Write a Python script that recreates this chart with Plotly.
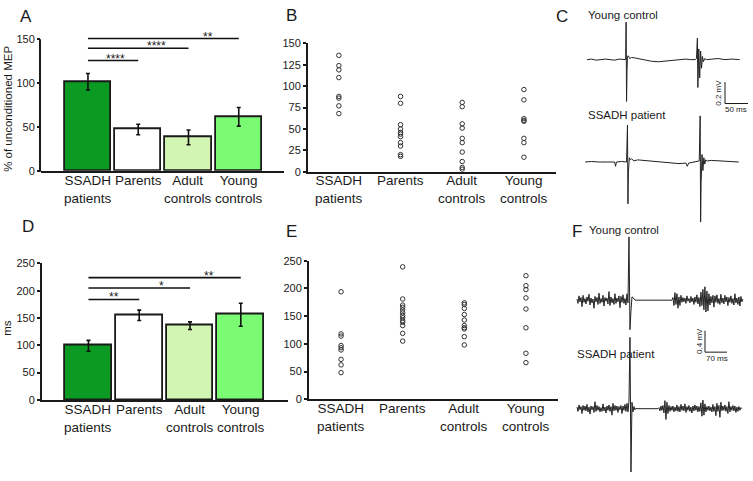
import plotly.graph_objects as go

W, H = 753, 481

# ---------------- data ----------------
category_labels = ["SSADH<br>patients", "Parents", "Adult<br>controls", "Young<br>controls"]
bar_colors = ["#0b9b22", "#ffffff", "#d3f5b3", "#7bfa74"]

# Panel A: % of unconditioned MEP (mean, SEM)
mep_mean = [101.5, 47, 38, 61.5]
mep_err = [9.3, 6, 8.4, 10.6]
sigA_to = [1, 2, 3]
sigA_height = [125.6, 139.6, 150.7]
sigA_text = ["****", "****", "**"]
sigA_text_x = [0.55, 1.37, 2.39]

# Panel B: individual values
mep_ssadh = [136, 124, 119, 110, 88, 86, 77, 68]
mep_parents = [88, 80, 55, 50, 46, 44, 41, 34, 30, 20, 18]
mep_adult = [81, 76, 56, 51, 39, 34, 23, 12, 5, 3]
mep_young = [96, 84, 62, 60, 59, 39, 34, 17]

# Panel D: silent period (ms)
sp_mean = [99, 155, 136, 156]
sp_err = [10, 9.5, 7, 21]
sigD_to = [1, 2, 3]
sigD_height = [184, 205, 224]
sigD_text = ["**", "*", "**"]
sigD_text_x = [0.51, 1.44, 2.37]

# Panel E: individual values
sp_ssadh = [194, 118, 114, 97, 93, 89, 72, 62, 48]
sp_parents = [239, 181, 170, 166, 161, 156, 151, 147, 142, 139, 133, 119, 105]
sp_adult = [174, 171, 164, 153, 143, 133, 129, 127, 113, 98]
sp_young = [223, 205, 198, 183, 163, 129, 83, 66]

# Panel C: paired-pulse MEP traces (ms, mV)
c_young_t = [0, 10, 20, 30, 40, 50, 60, 70, 80, 84, 85, 86, 87, 88, 90, 93, 97,
             105, 115, 125, 140, 155, 170, 185, 200, 215, 225, 235, 238, 240, 241,
             243, 245, 247, 249, 251, 253, 256, 260, 270, 285, 300, 315, 332]
c_young_v = [0, 0.005, -0.005, 0, 0.005, 0, -0.005, 0.005, 0, 0, 0.35, -0.39, -0.1,
             0.03, 0.035, 0.01, 0.02, 0.015, 0.005, 0, -0.015, -0.02, -0.015, -0.01,
             0, 0.005, 0, 0, 0.01, 0.2, -0.26, 0.1, -0.17, 0.08, -0.08, 0.03, -0.02,
             0.01, 0, 0.005, 0.01, 0, 0.005, 0]
c_ssadh_t = [-4, 10, 25, 40, 45, 50, 60, 62, 64, 75, 86, 88, 89, 90, 92, 94, 97,
             102, 110, 125, 140, 160, 180, 200, 215, 218, 221, 235, 244, 246, 247,
             248, 250, 252, 254, 256, 258, 262, 270, 285, 300, 315, 330]
c_ssadh_v = [0, 0.005, 0, 0.005, 0, 0, 0, -0.04, 0, 0.005, 0, 0.345, -0.39, -0.1,
             0.04, 0.02, 0.03, 0.01, 0.02, 0.015, 0.01, 0, -0.01, -0.015, -0.01,
             -0.04, -0.01, 0, 0.01, 0.43, -0.56, -0.2, 0.07, -0.08, 0.04, -0.02,
             0.02, 0.01, 0.015, 0.01, 0.005, 0, 0]

# Panel F: cortical silent period EMG traces (mV, sampled every F_DT ms)
F_DT = 3.18
f_young_v = [
    0.02, -0.06, 0.08, -0.03, 0.05, -0.12, 0.09, -0.04, 0.03, -0.07,
    0.06, -0.02, 0.11, -0.09, 0.04, -0.05, 0.02, -0.15, 0.07, -0.03,
    0.05, -0.08, 0.13, -0.06, 0.03, -0.04, 0.09, -0.11, 0.05, -0.02,
    0.04, -0.07, 0.16, -0.10, 0.06, -0.05, 0.03, -0.08, 0.12, -0.06,
    0.04, -0.03, 0.08, -0.14, 0.07, -0.04, 0.10, -0.06, 0.03, -0.09,
    0.12, -0.05, 1.18, -0.55, -0.20, 0.06, 0.05, 0.02,
    0, 0, 0, 0, 0, 0, 0, 0, 0, 0, 0, 0, 0, 0, 0, 0, 0, 0, 0,
    0, 0, 0, 0, 0, 0, 0, 0, 0, 0, 0, 0, 0, 0, 0, 0, 0, 0, 0,
    0.05, -0.10, 0.14, -0.08, 0.12, -0.15, 0.06, -0.10, 0.09, -0.04,
    0.05, -0.03, 0.04, -0.06, 0.08, -0.02, 0.03, -0.05, 0.07, -0.03,
    0.04, -0.08, 0.06, -0.04, 0.10, -0.07, 0.05, -0.12, 0.15, -0.10,
    0.20, -0.18, 0.25, -0.22, 0.17, -0.20, 0.12, -0.09, 0.07, -0.05,
    0.09, -0.13, 0.08, -0.04, 0.10, -0.06, 0.03, -0.08, 0.11, -0.05,
    0.04, -0.07, 0.09, -0.03, 0.06, -0.10, 0.05, -0.04, 0.08, -0.06,
    0.03, -0.09, 0.12, -0.05, 0.04, -0.08, 0.06, -0.11, 0.07, -0.03, 0.02]
f_ssadh_v = [
    0.03, -0.05, 0.07, -0.02, 0.04, -0.09, 0.06, -0.03, 0.05, -0.04,
    0.08, -0.06, 0.03, -0.10, 0.05, -0.02, 0.04, -0.07, 0.13, -0.05,
    0.06, -0.03, 0.04, -0.06, 0.02, -0.05, 0.09, -0.04, 0.03, -0.08,
    0.05, -0.03, 0.07, -0.05, 0.04, -0.12, 0.10, -0.04, 0.06, -0.03,
    0.05, -0.07, 0.04, -0.02, 0.06, -0.09, 0.05, -0.03, 0.08, -0.05,
    0.10, -0.06, 0.14, 1.33, -1.18, 0.12, -0.06, 0.04, -0.02, 0.01,
    0, 0, 0, 0, 0, 0, 0, 0, 0, 0, 0, 0, 0, 0, 0, 0, 0, 0, 0, 0, 0, 0,
    0.02, -0.04, 0.05, -0.03, 0.06, -0.08, 0.15, -0.20, 0.12, -0.09,
    0.06, -0.05, 0.04, -0.03, 0.05, -0.06, 0.03, -0.04, 0.07, -0.05,
    0.04, -0.06, 0.08, -0.03, 0.05, -0.04, 0.09, -0.07, 0.04, -0.03,
    0.06, -0.05, 0.03, -0.08, 0.05, -0.04, 0.07, -0.03, 0.05, -0.06,
    0.04, -0.05, 0.11, -0.14, 0.16, -0.12, 0.09, -0.06, 0.04, -0.03,
    0.05, -0.04, 0.03, -0.06, 0.08, -0.05, 0.04, -0.13, 0.10, -0.05,
    0.06, -0.16, 0.12, -0.04, 0.05, -0.03, 0.07, -0.05, 0.04, -0.09,
    0.13, -0.06, 0.04, -0.03, 0.06, -0.04, 0.05, -0.07, 0.03, -0.05,
    0.04, -0.03, 0.02, 0.0]

# ---------------- layout helpers ----------------
FONT = "Liberation Sans, Arial, sans-serif"
INK = "#1a1a1a"


def fx(px):
    return px / W


def fy(py):
    return 1 - py / H


def xdom(p0, p1):
    return [fx(p0), fx(p1)]


def ydom(top, bottom):
    return [fy(bottom), fy(top)]


fig = go.Figure()
annotations = []
shapes = []


def text(x, y, s, size, xref="paper", yref="paper", angle=0, xanchor="center",
         yanchor="middle", yshift=0):
    annotations.append(dict(x=x, y=y, xref=xref, yref=yref, text=s, showarrow=False,
                            font=dict(family=FONT, size=size, color=INK),
                            textangle=angle, xanchor=xanchor, yanchor=yanchor,
                            yshift=yshift, borderpad=0))


axis_common = dict(showgrid=False, zeroline=False, linecolor=INK, linewidth=2,
                   tickfont=dict(family=FONT, size=11, color=INK), fixedrange=True)

# ---------- Panel A ----------
A_SCALE = 0.9  # px per %
A_TOP = 169 - 158 * A_SCALE
fig.update_layout(
    xaxis=dict(domain=xdom(41, 284), range=[-0.934, 3.9], showline=True,
               showticklabels=False, ticks="", anchor="y", **axis_common),
    yaxis=dict(domain=ydom(A_TOP, 169), range=[0, 158], showline=False,
               tickvals=[0, 50, 100, 150], ticks="outside", ticklen=3, tickwidth=1.5,
               tickcolor=INK, anchor="x", **axis_common),
)
shapes.append(dict(type="line", xref="paper", yref="paper", x0=fx(40), x1=fx(40),
                   y0=fy(170), y1=fy(34), line=dict(color=INK, width=2)))
fig.add_trace(go.Bar(x=[0, 1, 2, 3], y=mep_mean, width=0.92, xaxis="x", yaxis="y",
                     marker=dict(color=bar_colors, line=dict(color=INK, width=1.8)),
                     error_y=dict(type="data", array=mep_err, color="#111",
                                  thickness=1.6, width=2)))
for j, h in zip(sigA_to, sigA_height):
    fig.add_trace(go.Scatter(x=[0, j], y=[h, h], mode="lines", xaxis="x", yaxis="y",
                             line=dict(color="#111", width=1.6), hoverinfo="skip"))
for sx, h, s in zip(sigA_text_x, sigA_height, sigA_text):
    text(sx, h, s, 12, xref="x", yref="y", yshift=2)

# ---------- Panel B ----------
fig.update_layout(
    xaxis2=dict(domain=xdom(308, 556), range=[-0.5, 3.52], showline=True,
                showticklabels=False, ticks="", anchor="y2", **axis_common),
    yaxis2=dict(domain=ydom(38.3, 170), range=[0, 150], showline=True,
                tickvals=[0, 25, 50, 75, 100, 125, 150], ticks="outside", ticklen=3,
                tickwidth=1.5, tickcolor=INK, anchor="x2", **axis_common),
)
for i, vals in enumerate([mep_ssadh, mep_parents, mep_adult, mep_young]):
    fig.add_trace(go.Scatter(x=[i] * len(vals), y=vals, mode="markers",
                             xaxis="x2", yaxis="y2",
                             marker=dict(symbol="circle-open", size=4.5, color="#333",
                                         line=dict(width=1, color="#333"))))

# ---------- Panel D ----------
fig.update_layout(
    xaxis4=dict(domain=xdom(42, 288), range=[-0.915, 3.93], showline=True,
                showticklabels=False, ticks="", anchor="y4", **axis_common),
    yaxis4=dict(domain=ydom(264, 404), range=[0, 250], showline=True,
                tickvals=[0, 50, 100, 150, 200, 250], ticks="outside", ticklen=3,
                tickwidth=1.5, tickcolor=INK, anchor="x4", **axis_common),
)
fig.add_trace(go.Bar(x=[0, 1, 2, 3], y=sp_mean, width=0.92, xaxis="x4", yaxis="y4",
                     marker=dict(color=bar_colors, line=dict(color=INK, width=1.8)),
                     error_y=dict(type="data", array=sp_err, color="#111",
                                  thickness=1.6, width=2)))
for j, h in zip(sigD_to, sigD_height):
    fig.add_trace(go.Scatter(x=[0, j], y=[h, h], mode="lines", xaxis="x4", yaxis="y4",
                             line=dict(color="#111", width=1.6), hoverinfo="skip"))
for sx, h, s in zip(sigD_text_x, sigD_height, sigD_text):
    text(sx, h, s, 12, xref="x4", yref="y4", yshift=2)

# ---------- Panel E ----------
fig.update_layout(
    xaxis5=dict(domain=xdom(309, 558), range=[-0.52, 3.52], showline=True,
                showticklabels=False, ticks="", anchor="y5", **axis_common),
    yaxis5=dict(domain=ydom(261.3, 403.3), range=[0, 250], showline=True,
                tickvals=[0, 50, 100, 150, 200, 250], ticks="outside", ticklen=3,
                tickwidth=1.5, tickcolor=INK, anchor="x5", **axis_common),
)
for i, vals in enumerate([sp_ssadh, sp_parents, sp_adult, sp_young]):
    fig.add_trace(go.Scatter(x=[i] * len(vals), y=vals, mode="markers",
                             xaxis="x5", yaxis="y5",
                             marker=dict(symbol="circle-open", size=4.5, color="#333",
                                         line=dict(width=1, color="#333"))))

# category labels, top-anchored so first lines align
for xr, top in [("x", 170.2), ("x2", 170.2), ("x4", 405.2), ("x5", 403.7)]:
    for i, lab in enumerate(category_labels):
        text(i, fy(top), lab, 13.5, xref=xr, yanchor="top")

# y-axis titles
text(fx(8), fy(105.5), "% of unconditioned MEP", 11.5, angle=-90)
text(fx(7), fy(330), "ms", 11.5, angle=-90)

# ---------- Panel C (traces) ----------
C_MS_PX = 50 / 23
C_MV_PX = 0.2 / 22
C_X0, C_BY, C_BS = 587, 55, 160
fig.update_layout(
    xaxis3=dict(domain=xdom(575, 752), range=[(575 - C_X0) * C_MS_PX, (752 - C_X0) * C_MS_PX],
                visible=False, fixedrange=True, anchor="y3"),
    yaxis3=dict(domain=ydom(0, 235), range=[(C_BY - 235) * C_MV_PX, C_BY * C_MV_PX],
                visible=False, fixedrange=True, anchor="x3"),
)
c_off = (C_BY - C_BS) * C_MV_PX
fig.add_trace(go.Scatter(x=c_young_t, y=c_young_v, mode="lines", xaxis="x3", yaxis="y3",
                         line=dict(color="#222", width=1)))
fig.add_trace(go.Scatter(x=c_ssadh_t, y=[v + c_off for v in c_ssadh_v], mode="lines",
                         xaxis="x3", yaxis="y3", line=dict(color="#222", width=1)))
cbx = (725 - C_X0) * C_MS_PX
cby = (C_BY - 100) * C_MV_PX
shapes.append(dict(type="line", xref="x3", yref="y3", x0=cbx, x1=cbx, y0=cby, y1=cby + 0.2,
                   line=dict(color=INK, width=1)))
shapes.append(dict(type="line", xref="x3", yref="y3", x0=cbx, x1=cbx + 50, y0=cby, y1=cby,
                   line=dict(color=INK, width=1)))
text(fx(719), fy(89), "0.2 mV", 8, angle=-90)
text(fx(736), fy(106), "50 ms", 8)
text(fx(587), fy(9), "Young control", 11.5, xanchor="left")
text(fx(587), fy(112), "SSADH patient", 11.5, xanchor="left")

# ---------- Panel F (traces) ----------
F_MS_PX = 70 / 22
F_MV_PX = 0.4 / 22
F_X0, F_BY, F_BS = 577, 301.7, 413
fig.update_layout(
    xaxis6=dict(domain=xdom(570, 752), range=[(570 - F_X0) * F_MS_PX, (752 - F_X0) * F_MS_PX],
                visible=False, fixedrange=True, anchor="y6"),
    yaxis6=dict(domain=ydom(236, 481), range=[(F_BY - 481) * F_MV_PX, (F_BY - 236) * F_MV_PX],
                visible=False, fixedrange=True, anchor="x6"),
)
f_off = (F_BY - F_BS) * F_MV_PX
fig.add_trace(go.Scatter(x=[i * F_DT for i in range(len(f_young_v))], y=f_young_v,
                         mode="lines", xaxis="x6", yaxis="y6",
                         line=dict(color="#222", width=1)))
fig.add_trace(go.Scatter(x=[i * F_DT for i in range(len(f_ssadh_v))],
                         y=[v + f_off for v in f_ssadh_v], mode="lines",
                         xaxis="x6", yaxis="y6", line=dict(color="#222", width=1)))
fbx = (705 - F_X0) * F_MS_PX
fby = (F_BY - 355) * F_MV_PX
shapes.append(dict(type="line", xref="x6", yref="y6", x0=fbx, x1=fbx, y0=fby, y1=fby + 0.4,
                   line=dict(color=INK, width=1)))
shapes.append(dict(type="line", xref="x6", yref="y6", x0=fbx, x1=fbx + 70, y0=fby, y1=fby,
                   line=dict(color=INK, width=1)))
text(fx(699.5), fy(344), "0.4 mV", 8, angle=-90)
text(fx(717), fy(362), "70 ms", 8)
text(fx(588), fy(230), "Young control", 11.5, xanchor="left")
text(fx(576), fy(357), "SSADH patient", 11.5, xanchor="left")

# panel letters
for lx, ly, s in [(26, 11, "A"), (291, 10, "B"), (562, 11, "C"),
                  (27.5, 226.5, "D"), (291, 231.5, "E"), (577, 231.5, "F")]:
    text(fx(lx), fy(ly), s, 17)

fig.update_layout(width=W, height=H, margin=dict(l=0, r=0, t=0, b=0),
                  paper_bgcolor="white", plot_bgcolor="white", showlegend=False,
                  annotations=annotations, shapes=shapes, bargap=0)

fig.write_html("out.html", config={"displayModeBar": False},
               post_script="document.body.style.margin='0';"
                           "document.body.style.overflow='hidden';")
